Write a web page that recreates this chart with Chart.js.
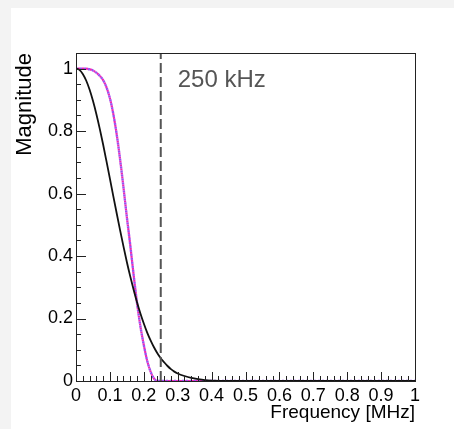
<!DOCTYPE html>
<html>
<head>
<meta charset="utf-8">
<script src="https://cdn.jsdelivr.net/npm/chart.js@4/dist/chart.umd.min.js"></script>
<style>
  html, body { margin: 0; padding: 0; width: 454px; height: 429px; overflow: hidden; background: #f3f3f3; }
  #panel { position: absolute; left: 11px; top: 8px; right: 0; bottom: 0; background: #fff; }
  #wrap { position: absolute; left: 0; top: 0; width: 454px; height: 429px; }
</style>
</head>
<body>
<div id="panel"></div>
<div id="wrap"><canvas id="filterChart" width="454" height="429"></canvas></div>
<script>
// black response (solid)
const blackFreq = [0, 0.01, 0.02, 0.03, 0.04, 0.05, 0.06, 0.07, 0.08, 0.09, 0.10,
  0.11, 0.12, 0.13, 0.14, 0.15, 0.16, 0.17, 0.18, 0.19, 0.20,
  0.21, 0.22, 0.23, 0.24, 0.25, 0.26, 0.27, 0.28, 0.29, 0.30,
  0.32, 0.34, 0.36, 0.38, 0.40, 0.45, 1.0];
const blackMag = [1.000, 0.996, 0.983, 0.962, 0.933, 0.897, 0.855, 0.808, 0.757, 0.703, 0.648,
  0.592, 0.537, 0.483, 0.431, 0.381, 0.335, 0.292, 0.252, 0.216, 0.184,
  0.155, 0.130, 0.108, 0.089, 0.073, 0.060, 0.048, 0.038, 0.030, 0.024,
  0.016, 0.010, 0.006, 0.003, 0.0015, 0, 0];

// steep response (magenta / violet dotted)
const steepFreq = [0, 0.02, 0.04, 0.05, 0.06, 0.07, 0.08, 0.09, 0.10,
  0.11, 0.12, 0.13, 0.14, 0.15, 0.16, 0.17, 0.18, 0.19, 0.20,
  0.21, 0.22, 0.23, 0.24, 1.0];
const steepMag = [1.000, 1.000, 0.998, 0.994, 0.987, 0.977, 0.963, 0.940, 0.905,
  0.855, 0.790, 0.710, 0.620, 0.525, 0.435, 0.340, 0.250, 0.175, 0.115,
  0.065, 0.030, 0.008, 0, 0];

const markerFreq = 0.25;
const markerLabel = '250 kHz';

const xTickVals = [0, 0.1, 0.2, 0.3, 0.4, 0.5, 0.6, 0.7, 0.8, 0.9, 1];
const xTickLabels = ['0', '0.1', '0.2', '0.3', '0.4', '0.5', '0.6', '0.7', '0.8', '0.9', '1'];
const yTickVals = [0, 0.2, 0.4, 0.6, 0.8, 1];
const yTickLabels = ['0', '0.2', '0.4', '0.6', '0.8', '1'];

const xMin = 0, xMax = 1, yMin = 0, yMax = 1.05;
const FONT = '"Liberation Sans", Arial, Helvetica, sans-serif';

function toPoints(xs, ys) {
  return xs.map((x, i) => ({x: x, y: ys[i]}));
}

/* frame + inward ticks, ROOT style */
const rootFrame = {
  id: 'rootFrame',
  afterDatasetsDraw(chart) {
    const {ctx, chartArea, scales} = chart;
    const xs = scales.x, ys = scales.y;
    ctx.save();
    ctx.strokeStyle = '#222';
    ctx.lineWidth = 1;

    ctx.beginPath();
    // x ticks: major 0.1, minor 0.02
    for (let i = 0; i <= 50; i++) {
      const v = i * 0.02;
      const px = Math.round(xs.getPixelForValue(v)) + 0.5;
      const len = (i % 5 === 0) ? 9 : 5;
      ctx.moveTo(px, chartArea.bottom);
      ctx.lineTo(px, chartArea.bottom - len);
    }
    // y ticks: major 0.2, minor 0.05
    for (let i = 0; i <= 21; i++) {
      const v = i * 0.05;
      const py = Math.round(ys.getPixelForValue(v)) + 0.5;
      const len = (i % 4 === 0) ? 10 : 5;
      ctx.moveTo(chartArea.left, py);
      ctx.lineTo(chartArea.left + len, py);
    }
    ctx.stroke();

    ctx.strokeRect(Math.round(chartArea.left) + 0.5, Math.round(chartArea.top) + 0.5,
      Math.round(chartArea.right - chartArea.left), Math.round(chartArea.bottom - chartArea.top));

    // label next to the dashed line
    ctx.fillStyle = '#555';
    ctx.font = '24px ' + FONT;
    ctx.textAlign = 'left';
    ctx.textBaseline = 'alphabetic';
    ctx.fillText(markerLabel, xs.getPixelForValue(0.3), ys.getPixelForValue(0.942));
    ctx.restore();
  }
};

new Chart(document.getElementById('filterChart'), {
  type: 'line',
  data: {
    datasets: [
      {
        data: [{x: markerFreq, y: yMin}, {x: markerFreq, y: yMax}],
        borderColor: '#555',
        borderWidth: 2,
        borderDash: [10, 4],
        pointRadius: 0
      },
      {
        data: toPoints(blackFreq, blackMag),
        borderColor: '#111',
        borderWidth: 1.8,
        pointRadius: 0,
        cubicInterpolationMode: 'monotone'
      },
      {
        data: toPoints(steepFreq, steepMag),
        borderColor: '#9a50f0',
        borderWidth: 2.4,
        borderDash: [2, 2],
        pointRadius: 0,
        cubicInterpolationMode: 'monotone'
      },
      {
        data: toPoints(steepFreq, steepMag),
        borderColor: '#f026b4',
        borderWidth: 2.2,
        borderDash: [2, 2],
        borderDashOffset: 2,
        pointRadius: 0,
        cubicInterpolationMode: 'monotone'
      }
    ]
  },
  options: {
    responsive: false,
    animation: false,
    events: [],
    layout: { padding: { left: 0, top: 53, right: 39, bottom: 0 } },
    plugins: { legend: { display: false }, tooltip: { enabled: false } },
    scales: {
      x: {
        type: 'linear',
        min: xMin,
        max: xMax,
        afterBuildTicks(scale) { scale.ticks = xTickVals.map(v => ({value: v})); },
        afterFit(scale) { scale.height = 48; },
        grid: { display: false, drawTicks: false },
        border: { display: false },
        ticks: {
          autoSkip: false,
          maxRotation: 0,
          padding: 4,
          color: '#000',
          font: { family: FONT, size: 18 },
          callback: (v, i) => xTickLabels[i]
        },
        title: {
          display: true,
          text: 'Frequency [MHz]',
          align: 'end',
          color: '#000',
          font: { family: FONT, size: 19 },
          padding: { top: 0, bottom: 5 }
        }
      },
      y: {
        type: 'linear',
        min: yMin,
        max: yMax,
        afterBuildTicks(scale) { scale.ticks = yTickVals.map(v => ({value: v})); },
        afterFit(scale) { scale.width = 76; },
        grid: { display: false, drawTicks: false },
        border: { display: false },
        ticks: {
          autoSkip: false,
          padding: 3,
          color: '#000',
          font: { family: FONT, size: 18 },
          callback: (v, i) => yTickLabels[i]
        },
        title: {
          display: true,
          text: 'Magnitude',
          align: 'end',
          color: '#000',
          font: { family: FONT, size: 22 },
          padding: { top: 12, bottom: 0 }
        }
      }
    }
  },
  plugins: [rootFrame]
});
</script>
</body>
</html>
